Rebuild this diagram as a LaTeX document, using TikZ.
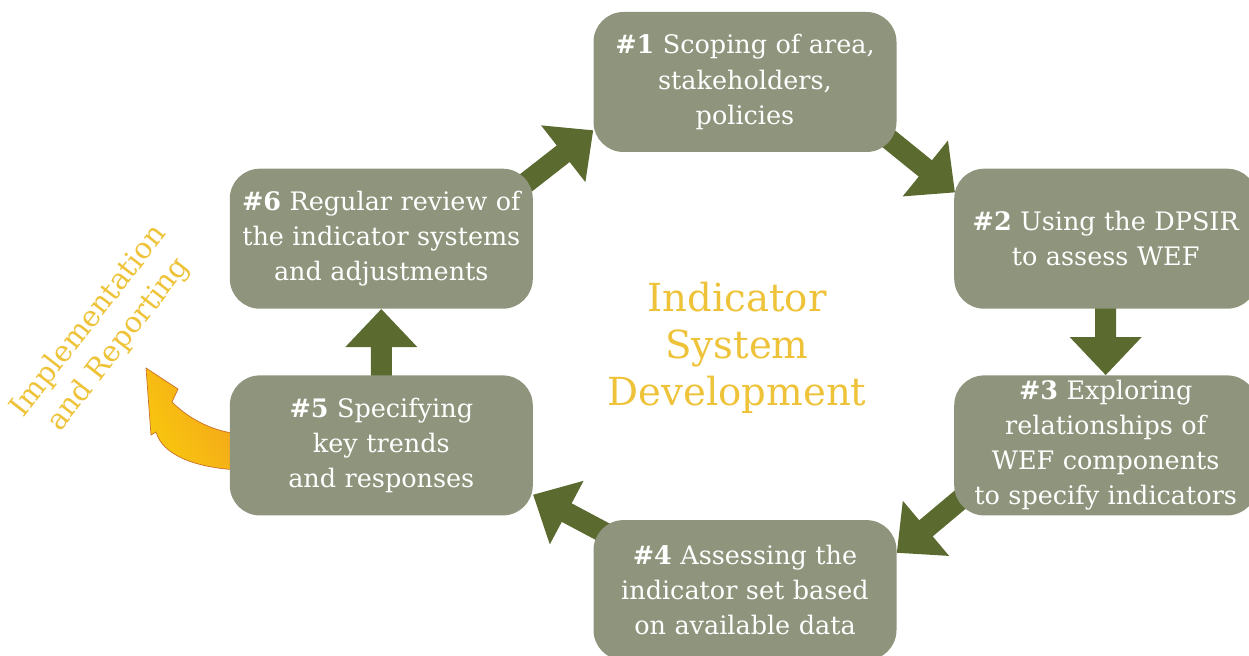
\documentclass[tikz,border=0pt]{standalone}
\usepackage{fontspec}
\setmainfont{DejaVu Serif}
\usepackage{tikz}
\usetikzlibrary{positioning,backgrounds}
\definecolor{stepgray}{HTML}{8E957C}
\definecolor{arrowgreen}{HTML}{5B6A2F}
\definecolor{titlegold}{HTML}{EEC33A}
\definecolor{reportyellow}{HTML}{F9C80E}
\definecolor{reportorange}{HTML}{F3A21B}
\definecolor{reportedge}{HTML}{C9712C}
\tikzset{
  every node/.style={
    font=\fontsize{14.5}{20}\selectfont
  },
  stepbox/.style={
    shape=rectangle,
    rounded corners=0.6cm,
    minimum width=6.06cm,
    minimum height=2.8cm,
    text width=5.9cm,
    text centered,
    fill=stepgray,
    text=white,
    inner sep=0pt
  },
  title/.style={
    text=titlegold,
    align=center,
    font=\fontsize{22}{26.6}\selectfont
  },
  pics/flowarrow/.style={
    code={
      \fill[arrowgreen] (0,0) -- (-0.76,0.72) -- (-0.76,0.21) -- (-1.8,0.21)
        -- (-1.8,-0.21) -- (-0.76,-0.21) -- (-0.76,-0.72) -- cycle;
    }
  }
}
\begin{document}
\begin{tikzpicture}
  \useasboundingbox (0,0) rectangle (24.98,13.1);
  \node [stepbox] (b1) at (14.9,11.46) {\textbf{\#1} Scoping of area,\\stakeholders,\\policies};
  \node [stepbox, below right=0.32cm and 1.14cm of b1] (b2) {\textbf{\#2} Using the DPSIR\\to assess WEF};
  \node [stepbox, below=1.32cm of b2] (b3) {\textbf{\#3} Exploring\\relationships of\\WEF components\\to specify indicators};
  \node [stepbox, below left=0.08cm and 1.14cm of b3] (b4) {\textbf{\#4} Assessing the\\indicator set based\\on available data};
  \node [stepbox, above left=0.08cm and 1.2cm of b4] (b5) {\textbf{\#5} Specifying\\key trends\\and responses};
  \node [stepbox, above=1.32cm of b5] (b6) {\textbf{\#6} Regular review of\\the indicator systems\\and adjustments};
  \node [title] (core) at (14.74,6.14) {Indicator\\System\\Development};
  \node [title, rotate=52, font=\fontsize{16.5}{21.5}\selectfont] (report) at (2.08,6.44) {Implementation\\and Reporting};
  \begin{scope}[on background layer]
    \pic [rotate=38] at ([yshift=0.44cm]b1.south west) {flowarrow};
    \pic [rotate=-39] at ([shift={(0.02,-0.48)}]b2.north west) {flowarrow};
    \pic [rotate=-90] at (b3.north) {flowarrow};
    \pic [rotate=220] at ([yshift=-0.66cm]b4.north east) {flowarrow};
    \pic [rotate=152] at ([yshift=0.42cm]b5.south east) {flowarrow};
    \pic [rotate=90] at (b6.south) {flowarrow};
    \draw [reportedge, line width=0.4pt, left color=reportyellow, right color=reportorange, shading angle=120]
      (4.8,3.7) .. controls (3.9,3.74) and (3.25,4.0) .. (3.12,4.46) -- (3.02,4.4)
      -- (2.92,5.74) -- (3.56,5.32) -- (3.44,5.06)
      .. controls (3.8,4.7) and (4.3,4.46) .. (4.8,4.42) -- cycle;
  \end{scope}
\end{tikzpicture}
\end{document}
